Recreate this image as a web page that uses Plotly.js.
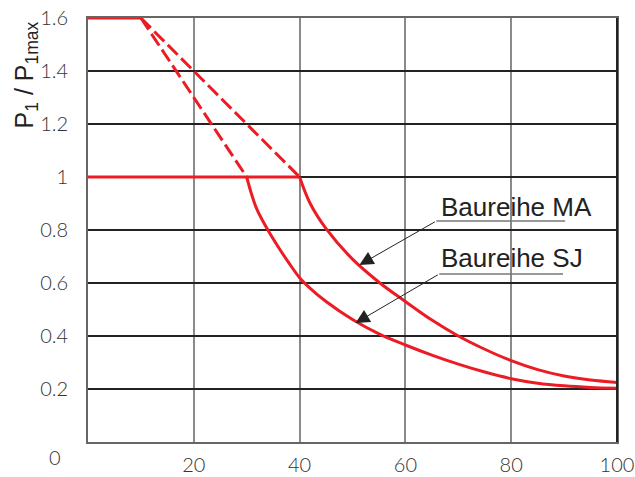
<!DOCTYPE html>
<html>
<head>
<meta charset="utf-8">
<script src="https://cdn.plot.ly/plotly-3.0.1.min.js"></script>
<style>html,body{margin:0;padding:0;background:#fff;}#chart{width:635px;height:477px;}</style>
</head>
<body>
<div id="chart"></div>
<script>
// ---- data ----
const topX = [0, 10];
const topY = [1.6, 1.6];
const baseX = [0, 40];
const baseY = [1.0, 1.0];
const maDashX = [10, 40];
const maDashY = [1.6, 1.0];
const sjDashX = [10, 30];
const sjDashY = [1.6, 1.0];
const maX = [40, 42, 45, 50, 55, 60, 65, 70, 75, 80, 85, 90, 95, 100];
const maY = [1.0, 0.9, 0.805, 0.69, 0.603, 0.53, 0.46, 0.4, 0.35, 0.307, 0.273, 0.249, 0.234, 0.225];
const sjX = [30, 31, 32, 34, 36, 38, 40, 42, 45, 50, 55, 60, 65, 70, 75, 80, 85, 90, 95, 100];
const sjY = [1.0, 0.93, 0.875, 0.8, 0.735, 0.675, 0.62, 0.58, 0.53, 0.462, 0.408, 0.366, 0.328, 0.294, 0.264, 0.239, 0.222, 0.212, 0.206, 0.203];
const xTicks = [20, 40, 60, 80, 100];
const xTickText = ['20', '40', '60', '80', '100'];
const yTicks = [0.2, 0.4, 0.6, 0.8, 1.0, 1.2, 1.4, 1.6];
const yTickText = ['0.2', '0.4', '0.6', '0.8', '1', '1.2', '1.4', '1.6'];
const labelMA = 'Baureihe MA';
const labelSJ = 'Baureihe SJ';
const yTitle = 'P<sub>1</sub> / P<sub>1max</sub>';

const red = '#ec1c24';
const solid = {color: red, width: 3};
const dashed = {color: red, width: 3, dash: '14px,5px'};

const traces = [
  {x: topX, y: topY, mode: 'lines', line: solid},
  {x: baseX, y: baseY, mode: 'lines', line: solid},
  {x: maDashX, y: maDashY, mode: 'lines', line: dashed},
  {x: sjDashX, y: sjDashY, mode: 'lines', line: dashed},
  {x: maX, y: maY, mode: 'lines', line: Object.assign({shape: 'spline', smoothing: 1}, solid)},
  {x: sjX, y: sjY, mode: 'lines', line: Object.assign({shape: 'spline', smoothing: 1}, solid)}
];

const tickFont = {family: 'Lato, "Liberation Sans", sans-serif', size: 20, color: '#333', weight: 300};
const labelFont = {family: '"Liberation Sans", Arial, sans-serif', size: 26, color: '#222'};

const layout = {
  width: 635, height: 477,
  margin: {l: 88, r: 18, t: 18, b: 35, pad: 0},
  paper_bgcolor: '#fff', plot_bgcolor: '#fff',
  showlegend: false,
  xaxis: {
    range: [0, 100], fixedrange: true,
    tickmode: 'array', tickvals: xTicks, ticktext: xTickText,
    showgrid: true, gridcolor: '#8a8a8a', gridwidth: 2,
    zeroline: false, showline: true, linecolor: '#666', linewidth: 2, mirror: true,
    ticks: '', ticklabelstandoff: 4, tickfont: tickFont
  },
  yaxis: {
    range: [0, 1.6], fixedrange: true,
    tickmode: 'array', tickvals: yTicks, ticktext: yTickText,
    showgrid: true, gridcolor: '#222', gridwidth: 1.2,
    zeroline: false, showline: true, linecolor: '#666', linewidth: 2, mirror: true,
    ticks: '', ticklabelstandoff: 14, tickfont: tickFont
  },
  shapes: [
    {type: 'line', xref: 'paper', yref: 'paper', x0: 1, x1: 1, y0: 0, y1: 1, line: {color: '#222', width: 2}},
    {type: 'line', xref: 'x', yref: 'y', x0: 65.85, x1: 90.2, y0: 0.834, y1: 0.834, line: {color: '#777', width: 1.5}},
    {type: 'line', xref: 'x', yref: 'y', x0: 66.4, x1: 89.8, y0: 0.634, y1: 0.634, line: {color: '#777', width: 1.5}}
  ],
  annotations: [
    {x: 51.3, y: 0.668, ax: 65.85, ay: 0.834, axref: 'x', ayref: 'y', xref: 'x', yref: 'y',
     text: '', showarrow: true, arrowhead: 2, arrowsize: 2.8, arrowwidth: 1, arrowcolor: '#222'},
    {x: 50.57, y: 0.449, ax: 66.4, ay: 0.634, axref: 'x', ayref: 'y', xref: 'x', yref: 'y',
     text: '', showarrow: true, arrowhead: 2, arrowsize: 2.8, arrowwidth: 1, arrowcolor: '#222'},
    {x: 66.4, y: 0.888, xref: 'x', yref: 'y', xanchor: 'left', yanchor: 'middle',
     text: labelMA, showarrow: false, font: labelFont},
    {x: 66.4, y: 0.695, xref: 'x', yref: 'y', xanchor: 'left', yanchor: 'middle',
     text: labelSJ, showarrow: false, font: labelFont},
    {x: -0.118, y: 0.866, xref: 'paper', yref: 'paper', xanchor: 'center', yanchor: 'middle',
     text: yTitle, textangle: -90, showarrow: false,
     font: {family: '"Liberation Sans", Arial, sans-serif', size: 25, color: '#222'}},
    {x: -0.062, y: -0.036, xref: 'paper', yref: 'paper', xanchor: 'center', yanchor: 'middle',
     text: '0', showarrow: false, font: tickFont}
  ]
};

Plotly.newPlot('chart', traces, layout, {displayModeBar: false, staticPlot: true});
</script>
</body>
</html>
